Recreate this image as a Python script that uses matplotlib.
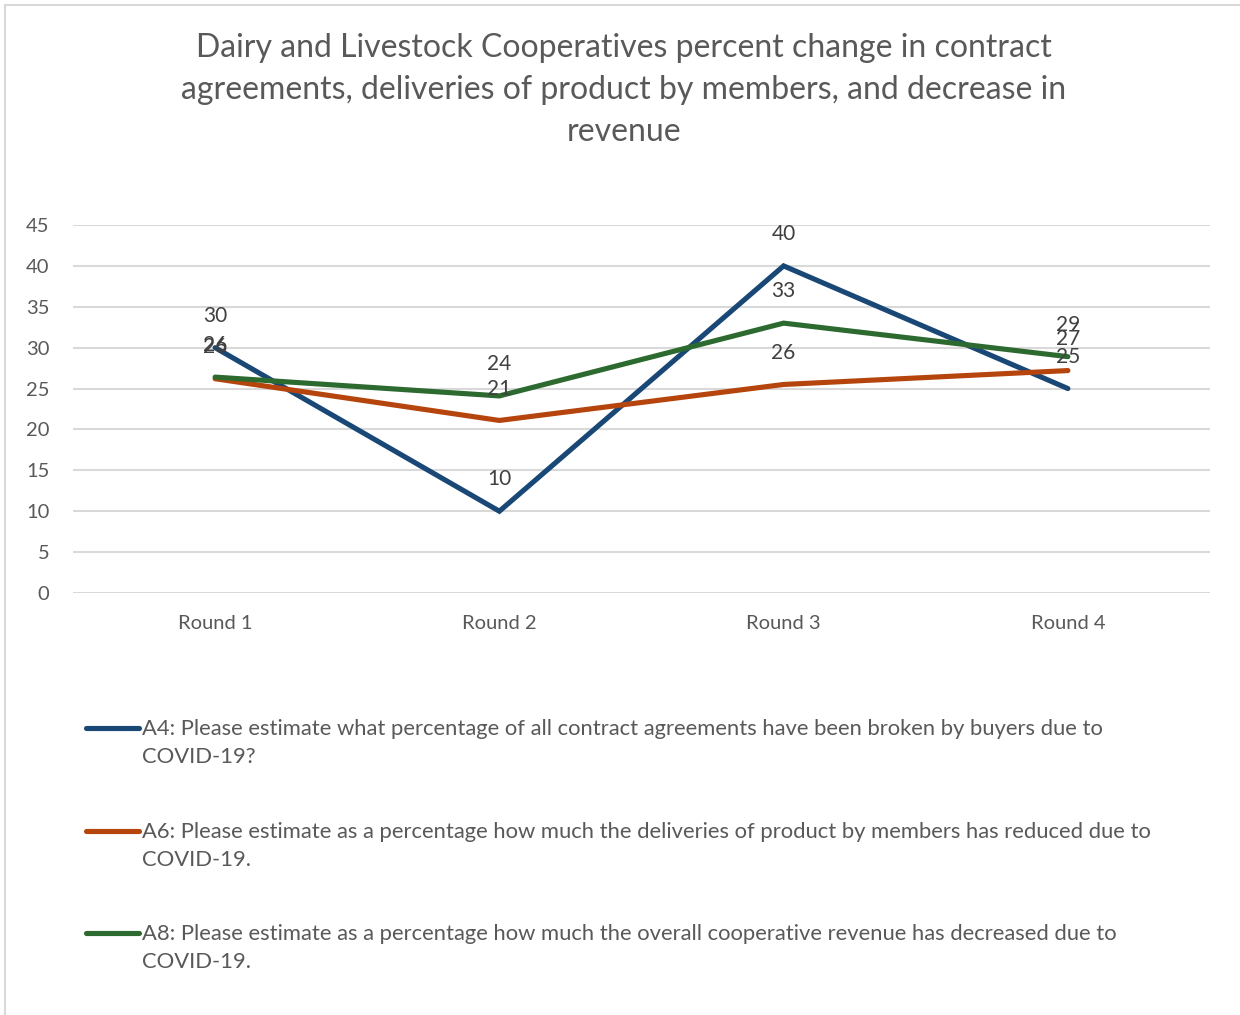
import matplotlib
matplotlib.use("Agg")
import matplotlib.pyplot as plt
from matplotlib.lines import Line2D

plt.rcParams['font.family'] = ['Lato', 'DejaVu Sans']

# Survey rounds and series values (percent)
rounds = ["Round 1", "Round 2", "Round 3", "Round 4"]
a4_contracts = [30, 10, 40, 25]
a6_deliveries = [26.2, 21.1, 25.5, 27.2]
a8_revenue = [26.4, 24.1, 33.0, 28.9]

series_labels = [
    "A4: Please estimate what percentage of all contract agreements have been broken by buyers due to\nCOVID-19?",
    "A6: Please estimate as a percentage how much the deliveries of product by members has reduced due to\nCOVID-19.",
    "A8: Please estimate as a percentage how much the overall cooperative revenue has decreased due to\nCOVID-19.",
]
series_values = [a4_contracts, a6_deliveries, a8_revenue]
series_colors = ["#1A4876", "#B5450D", "#2D6A2F"]

y_ticks = [0, 5, 10, 15, 20, 25, 30, 35, 40, 45]

title = ("Dairy and Livestock Cooperatives percent change in contract\n"
         "agreements, deliveries of product by members, and decrease in\n"
         "revenue")

W, H = 1240, 1015
fig = plt.figure(figsize=(W / 100, H / 100), dpi=100)

# chart frame (left and top edges)
fig.add_artist(Line2D([5 / W, 5 / W], [0, 1 - 5 / H], color="#D9D9D9", lw=1.5))
fig.add_artist(Line2D([5 / W, 1], [1 - 5 / H, 1 - 5 / H], color="#D9D9D9", lw=1.5))

ax = fig.add_axes([73 / W, 1 - 593 / H, (1210 - 73) / W, (593 - 225) / H])
x = [i + 0.5 for i in range(len(rounds))]

for vals, col in zip(series_values, series_colors):
    ax.plot(x, vals, color=col, lw=3.7, solid_capstyle="round", solid_joinstyle="miter", zorder=3)
    for xi, v in zip(x, vals):
        ax.annotate(f"{v:.0f}", (xi, v), xytext=(0, 23), textcoords="offset points",
                    ha="center", va="center", fontsize=15, color="#404040", zorder=4)

ax.set_xlim(0, len(rounds))
ax.set_ylim(0, 45)
ax.set_yticks(y_ticks)
ax.set_xticks(x)
ax.set_xticklabels(rounds)
ax.grid(axis="y", color="#D9D9D9", lw=1.5)
ax.set_axisbelow(True)
for s in ax.spines.values():
    s.set_visible(False)
ax.tick_params(axis="both", length=0, labelsize=14.5, labelcolor="#595959")
ax.tick_params(axis="y", pad=17)
ax.tick_params(axis="x", pad=16)

fig.text(624 / W, 1 - 90 / H, title, ha="center", va="center", fontsize=23,
         color="#595959", linespacing=1.5)

# legend entries below the plot
legend_y = [728, 831, 933]
for lbl, col, yy in zip(series_labels, series_colors, legend_y):
    fig.add_artist(Line2D([86 / W, 139 / W], [1 - yy / H, 1 - yy / H], color=col, lw=3.7,
                          solid_capstyle="round"))
    fig.text(142 / W, 1 - (yy - 9) / H, lbl, ha="left", va="top", fontsize=15.8,
             color="#595959", linespacing=1.5)

fig.savefig("out.png", dpi=100, facecolor="white")
